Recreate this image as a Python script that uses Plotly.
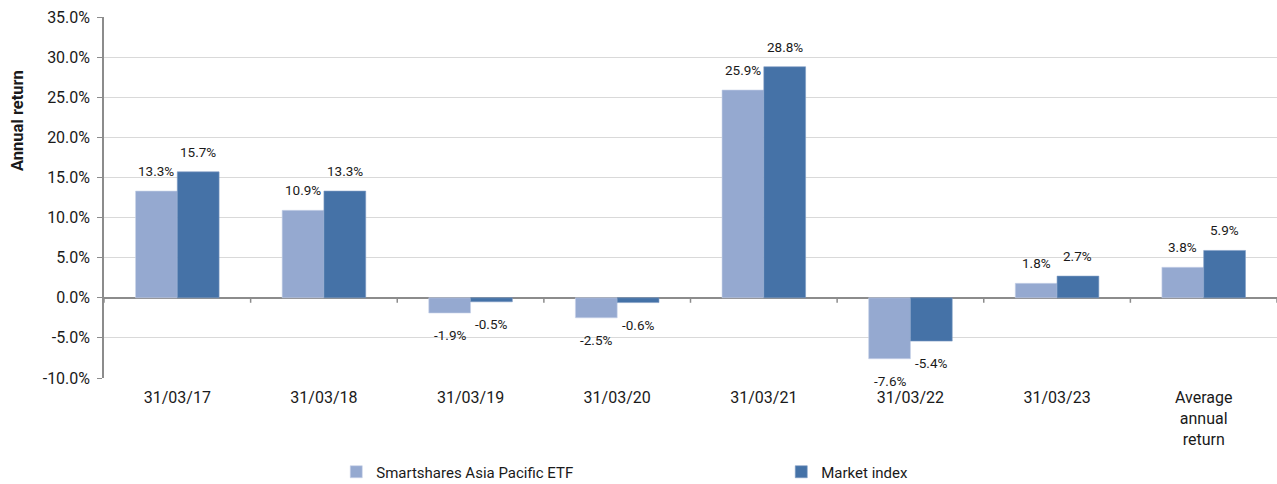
import plotly.graph_objects as go

categories = ["31/03/17", "31/03/18", "31/03/19", "31/03/20", "31/03/21", "31/03/22", "31/03/23", "Average<br>annual<br>return"]
etf = [13.3, 10.9, -1.9, -2.5, 25.9, -7.6, 1.8, 3.8]
index_ret = [15.7, 13.3, -0.5, -0.6, 28.8, -5.4, 2.7, 5.9]
series_names = ["Smartshares Asia Pacific ETF", "Market index"]
y_ticks = [-10, -5, 0, 5, 10, 15, 20, 25, 30, 35]
y_title = "Annual return"

light = "#95A9D0"
dark = "#4572A7"
font_family = "Roboto, Arial, sans-serif"
text_color = "#1a1a1a"
bargap = 0.43
half = (1 - bargap) / 4  # offset of each bar's centre from the category centre

fig = go.Figure()
fig.add_trace(go.Bar(x=categories, y=etf, name=series_names[0],
                     marker=dict(color=light, line=dict(color="#C9D4EA", width=0.6))))
fig.add_trace(go.Bar(x=categories, y=index_ret, name=series_names[1],
                     marker=dict(color=dark, line=dict(color="#7F9CC4", width=0.6))))

# data labels above / below each bar
for i, c in enumerate(categories):
    for vals, off in ((etf, -half), (index_ret, half)):
        v = vals[i]
        shift = 20 if v >= 0 else -22
        fig.add_annotation(x=i + off, y=v, xref="x", yref="y", text=f"{v:.1f}%", showarrow=False,
                           yshift=shift, font=dict(size=13.5, color=text_color, family=font_family))

# category boundary ticks hanging from the zero line
for i in range(len(categories) + 1):
    fig.add_shape(type="line", xref="x", yref="y", x0=i - 0.5, x1=i - 0.5, y0=0, y1=-5,
                  ysizemode="pixel", yanchor=0, line=dict(color="#8C8C8C", width=1.5))

# y-axis title (placed above the plot's vertical centre, as in the original)
fig.add_annotation(text=f"<b>{y_title}</b>", xref="paper", yref="paper", x=-86 / 1173, y=0.712,
                   textangle=-90, showarrow=False, xanchor="center", yanchor="middle",
                   font=dict(size=16.5, color=text_color, family=font_family))

fig.update_layout(
    width=1277, height=484,
    margin=dict(l=104, r=0, t=17, b=106),
    paper_bgcolor="white", plot_bgcolor="white",
    barmode="group", bargap=bargap, bargroupgap=0,
    font=dict(family=font_family, size=16, color=text_color),
    showlegend=True,
    legend=dict(orientation="h", x=0.198, y=12 / 484, xanchor="left", yanchor="middle", yref="container",
                entrywidth=400, entrywidthmode="pixels", font=dict(size=15, color=text_color),
                traceorder="normal"),
)
fig.update_xaxes(type="category", showgrid=False, showline=False, ticks="", automargin=False,
                 tickfont=dict(size=16), range=[-0.5, 7.5], ticklabelstandoff=8)
fig.update_yaxes(range=[-10, 35], tickvals=y_ticks, ticktext=[f"{t:.1f}%" for t in y_ticks],
                 showgrid=True, gridcolor="#D9D9D9", gridwidth=1, automargin=False,
                 zeroline=True, zerolinecolor="#8C8C8C", zerolinewidth=1.5,
                 showline=True, linecolor="#8C8C8C", linewidth=1.5, ticks="outside", ticklen=5,
                 tickcolor="#8C8C8C", tickfont=dict(size=16), ticklabelstandoff=4)

fig.write_html("out.html", config={"displayModeBar": False},
               post_script="document.body.style.margin='0';")
